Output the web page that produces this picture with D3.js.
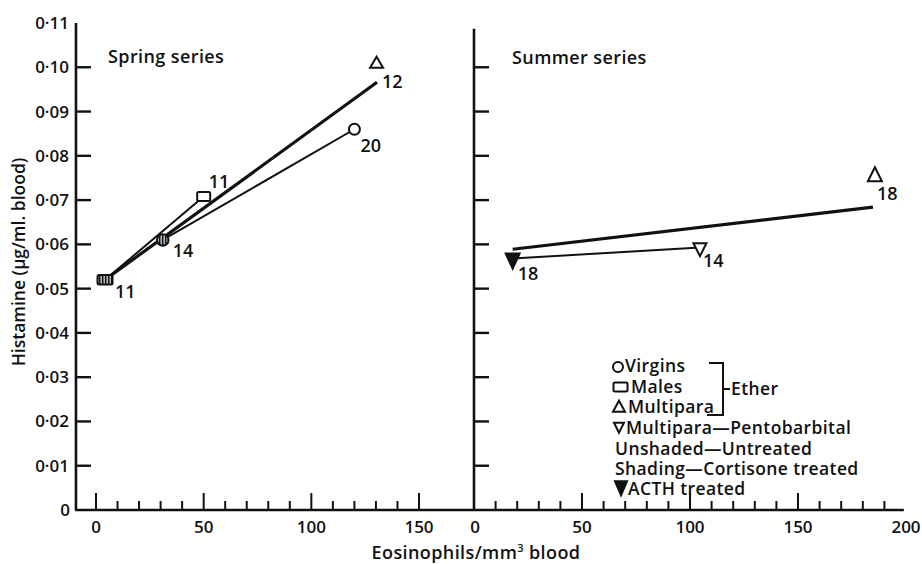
<!DOCTYPE html>
<html><head><meta charset="utf-8">
<script src="https://cdn.jsdelivr.net/npm/d3@7"></script>
<style>
html,body{margin:0;padding:0;background:#fff;}
text{font-family:"Open Sans",Lato,sans-serif;font-weight:600;fill:#111;}
.lab{letter-spacing:0.4px;}
</style></head>
<body><svg id="c" width="922" height="564"></svg>
<script>
// ---------- data ----------
const yTicks = [0,0.01,0.02,0.03,0.04,0.05,0.06,0.07,0.08,0.09,0.10,0.11];
const yTickLabels = ["0","0·01","0·02","0·03","0·04","0·05","0·06","0·07","0·08","0·09","0·10","0·11"];
const springXTicks = [0,50,100,150];
const springXTickLabels = ["0","50","100","150"];
const summerXTicks = [0,50,100,150,200];
const summerXTickLabels = ["0","50","100","150","200"];

// Spring series points
const springX = [31, 120, 4.2, 50, 130.3];
const springY = [0.061, 0.086, 0.052, 0.0708, 0.1007];
const springShape = ["circle","circle","square","square","triangleUp"];
const springFill = ["shaded","open","shaded","open","open"];
const springN = ["14","20","11","11","12"];
const springPairs = [[2,3],[0,1]];          // thin connecting lines (shaded -> untreated)
const springTrendX = [4.2, 130.5];          // heavy line
const springTrendY = [0.052, 0.0966];

// Summer series points
const summerX = [17.9, 104.6, 185.6];
const summerY = [0.0568, 0.0593, 0.0753];
const summerShape = ["triangleDown","triangleDown","triangleUp"];
const summerFill = ["filled","open","open"];
const summerN = ["18","14","18"];
const summerPairs = [[0,1]];
const summerTrendX = [17.9, 184.7];
const summerTrendY = [0.0589, 0.0684];

const legendLabels = ["Virgins","Males","Multipara","Multipara—Pentobarbital","Unshaded—Untreated","Shading—Cortisone treated","ACTH treated"];
const legendShapes = ["circle","square","triangleUp","triangleDown",null,null,"triangleDown"];
const legendFills = ["open","open","open","open",null,null,"filled"];

// ---------- layout ----------
const svg = d3.select("#c");
const y = d3.scaleLinear().domain([0,0.11]).range([510,23]);
const xL = d3.scaleLinear().domain([0,150]).range([96,419]);
const xR = d3.scaleLinear().domain([0,200]).range([474,906]);
const leftAxisX = xL(-9.3), dividerX = xR(0), rightEndX = xR(199);

const defs = svg.append("defs");
const pat = defs.append("pattern").attr("id","hatch").attr("patternUnits","userSpaceOnUse")
  .attr("width",3).attr("height",3);
pat.append("rect").attr("width",3).attr("height",3).attr("fill","#111");
pat.append("rect").attr("x",1.6).attr("width",1.1).attr("height",3).attr("fill","#fff");

const g = svg.append("g");

// axes lines
g.append("line").attr("x1",leftAxisX).attr("x2",leftAxisX).attr("y1",y(0.11)).attr("y2",y(0))
  .attr("stroke","#111").attr("stroke-width",2.6);
g.append("line").attr("x1",dividerX).attr("x2",dividerX).attr("y1",y(0.1087)).attr("y2",y(0))
  .attr("stroke","#111").attr("stroke-width",2.6);
g.append("line").attr("x1",leftAxisX-1).attr("x2",rightEndX).attr("y1",y(0)).attr("y2",y(0))
  .attr("stroke","#111").attr("stroke-width",2.6);

// y ticks (left axis and divider)
yTicks.slice(1,11).forEach(v=>{
  g.append("line").attr("x1",leftAxisX).attr("x2",leftAxisX+15).attr("y1",y(v)).attr("y2",y(v))
    .attr("stroke","#111").attr("stroke-width",2.4);
  g.append("line").attr("x1",dividerX).attr("x2",dividerX+15).attr("y1",y(v)).attr("y2",y(v))
    .attr("stroke","#111").attr("stroke-width",2.4);
});
yTicks.forEach((v,i)=>{
  g.append("text").attr("x", i===0 ? leftAxisX-6 : leftAxisX-7).attr("y",y(v)+6)
    .attr("text-anchor","end").attr("font-size",17).text(yTickLabels[i]);
});

// x ticks
d3.range(0,151,10).forEach(v=>{
  const major = v%50===0;
  g.append("line").attr("x1",xL(v)).attr("x2",xL(v)).attr("y1",y(0)).attr("y2",y(0)-(major?17:9))
    .attr("stroke","#111").attr("stroke-width",2);
});
d3.range(10,191,10).forEach(v=>{
  const major = v%50===0;
  g.append("line").attr("x1",xR(v)).attr("x2",xR(v)).attr("y1",y(0)).attr("y2",y(0)-(major?17:9))
    .attr("stroke","#111").attr("stroke-width",2);
});
springXTicks.forEach((v,i)=>{
  g.append("text").attr("x",xL(v)).attr("y",533).attr("text-anchor","middle").attr("font-size",17).text(springXTickLabels[i]);
});
summerXTicks.forEach((v,i)=>{
  g.append("text").attr("x",xR(v)+(i===0?1:0)).attr("y",533).attr("text-anchor","middle").attr("font-size",17).text(summerXTickLabels[i]);
});

// axis titles
const xt = g.append("text").attr("class","lab").attr("x",476).attr("y",559).attr("text-anchor","middle").attr("font-size",18);
xt.append("tspan").text("Eosinophils/mm");
xt.append("tspan").attr("dy",-7).attr("font-size",11).text("3");
xt.append("tspan").attr("dy",7).text(" blood");
g.append("text").attr("transform","translate(25,262) rotate(-90)").attr("text-anchor","middle")
  .attr("font-size",17.5).text("Histamine (μg/ml. blood)");

// panel titles
g.append("text").attr("class","lab").attr("x",108).attr("y",63).attr("font-size",18).text("Spring series");
g.append("text").attr("class","lab").attr("x",512).attr("y",64).attr("font-size",18).text("Summer series");

// ---------- marker helper ----------
function drawMarker(sel, shape, fill, cx, cy, s){
  const f = fill==="shaded" ? "url(#hatch)" : fill==="filled" ? "#111" : "#fff";
  if(shape==="circle"){
    sel.append("circle").attr("cx",cx).attr("cy",cy).attr("r",s.r)
      .attr("fill",f).attr("stroke","#111").attr("stroke-width",2);
  } else if(shape==="square"){
    sel.append("rect").attr("x",cx-s.w/2).attr("y",cy-s.h/2).attr("width",s.w).attr("height",s.h).attr("rx",1.5)
      .attr("fill",f).attr("stroke","#111").attr("stroke-width",2);
  } else {
    const w=s.w, h=s.h, up = shape==="triangleUp";
    const pts = up ? [[cx,cy-2*h/3],[cx+w/2,cy+h/3],[cx-w/2,cy+h/3]]
                   : [[cx,cy+2*h/3],[cx+w/2,cy-h/3],[cx-w/2,cy-h/3]];
    sel.append("path").attr("d","M"+pts.map(p=>p.join(",")).join("L")+"Z")
      .attr("fill",f).attr("stroke","#111").attr("stroke-width",2).attr("stroke-linejoin","miter");
  }
}

// ---------- spring panel ----------
g.append("line").attr("x1",xL(springTrendX[0])).attr("y1",y(springTrendY[0]))
  .attr("x2",xL(springTrendX[1])).attr("y2",y(springTrendY[1])).attr("stroke","#111").attr("stroke-width",3.2);
springPairs.forEach(([a,b])=>{
  g.append("line").attr("x1",xL(springX[a])).attr("y1",y(springY[a]))
    .attr("x2",xL(springX[b])).attr("y2",y(springY[b])).attr("stroke","#111").attr("stroke-width",2);
});
const springSize = [{r:5.8},{r:5.5},{w:15,h:9.5},{w:13,h:9},{w:13,h:11}];
const springLab = [[10,17],[6,23],[10,18],[5,-9],[5.5,24]];
springX.forEach((v,i)=>{
  drawMarker(g, springShape[i], springFill[i], xL(v), y(springY[i]), springSize[i]);
  g.append("text").attr("x",xL(v)+springLab[i][0]).attr("y",y(springY[i])+springLab[i][1])
    .attr("font-size",18).text(springN[i]);
});

// ---------- summer panel ----------
g.append("line").attr("x1",xR(summerTrendX[0])).attr("y1",y(summerTrendY[0]))
  .attr("x2",xR(summerTrendX[1])).attr("y2",y(summerTrendY[1])).attr("stroke","#111").attr("stroke-width",3.2);
summerPairs.forEach(([a,b])=>{
  g.append("line").attr("x1",xR(summerX[a])).attr("y1",y(summerY[a]))
    .attr("x2",xR(summerX[b])).attr("y2",y(summerY[b])).attr("stroke","#111").attr("stroke-width",2);
});
const summerSize = [{w:14,h:15},{w:13,h:13},{w:14,h:14}];
const summerLab = [[5,21],[3,20],[2,23.5]];
summerX.forEach((v,i)=>{
  drawMarker(g, summerShape[i], summerFill[i], xR(v), y(summerY[i]), summerSize[i]);
  g.append("text").attr("x",xR(v)+summerLab[i][0]).attr("y",y(summerY[i])+summerLab[i][1])
    .attr("font-size",18).text(summerN[i]);
});

// ---------- legend ----------
const legBase = [372,393,413,434,455,475,495];
const legTextX = [625,631,628,626,615,615,628];
const legSym = [[618,367,{r:5}],[620.5,387,{w:14,h:9}],[619,408,{w:12,h:11}],[619,426,{w:10,h:10}],null,null,[621,486,{w:12,h:14}]];
legendLabels.forEach((t,i)=>{
  if(legendShapes[i]) drawMarker(g, legendShapes[i], legendFills[i], legSym[i][0], legSym[i][1], legSym[i][2]);
  g.append("text").attr("class","lab").attr("x",legTextX[i]).attr("y",legBase[i]).attr("font-size",17.5).text(t);
});
g.append("path").attr("d","M709,363H723V415H707M723,389H730").attr("fill","none").attr("stroke","#111").attr("stroke-width",2);
g.append("text").attr("class","lab").attr("x",731).attr("y",395).attr("font-size",17.5).text("Ether");
</script></body></html>
